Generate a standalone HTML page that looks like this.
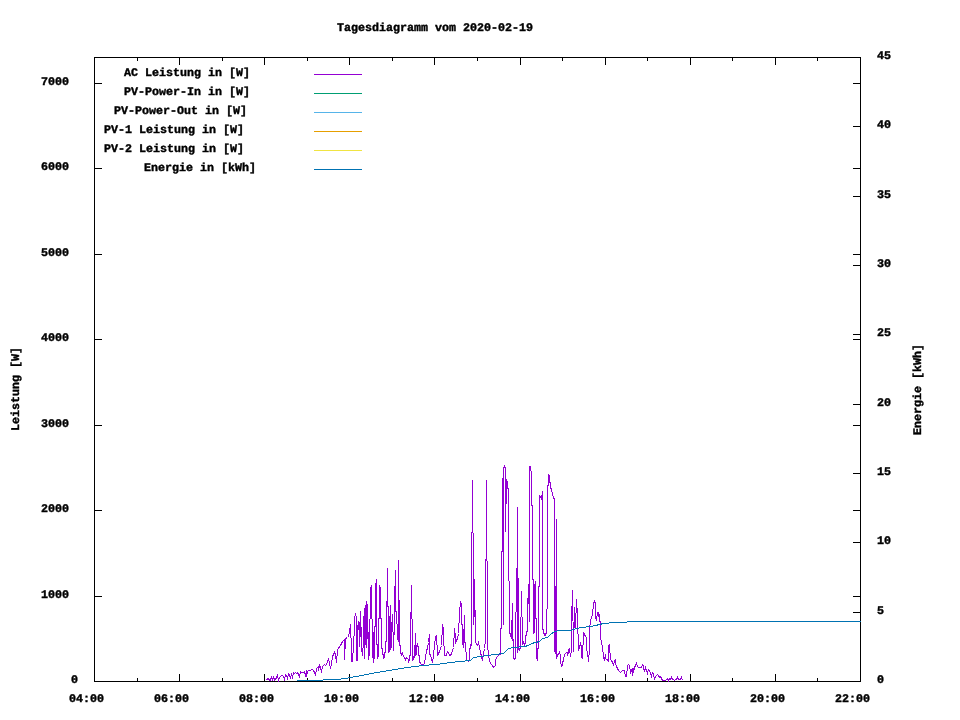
<!DOCTYPE html>
<html lang="de"><head><meta charset="utf-8"><title>Tagesdiagramm vom 2020-02-19</title>
<style>html,body{margin:0;padding:0;background:#fff;overflow:hidden}svg{display:block}text{text-rendering:geometricPrecision;font-family:"Liberation Mono","DejaVu Sans Mono",monospace;font-weight:bold;font-size:11.6px;fill:#000;stroke:#000;stroke-width:0.4px}</style>
</head><body>
<svg width="960" height="720" viewBox="0 0 960 720">
<rect width="960" height="720" fill="#fff"/>
<g stroke="#000" stroke-width="1" fill="none" shape-rendering="crispEdges">
<path d="M94.5 674V682"/>
<path d="M94.5 57V65"/>
<path d="M137.5 678V682"/>
<path d="M137.5 57V61"/>
<path d="M179.5 674V682"/>
<path d="M179.5 57V65"/>
<path d="M222.5 678V682"/>
<path d="M222.5 57V61"/>
<path d="M264.5 674V682"/>
<path d="M264.5 57V65"/>
<path d="M307.5 678V682"/>
<path d="M307.5 57V61"/>
<path d="M349.5 674V682"/>
<path d="M349.5 57V65"/>
<path d="M392.5 678V682"/>
<path d="M392.5 57V61"/>
<path d="M434.5 674V682"/>
<path d="M434.5 57V65"/>
<path d="M477.5 678V682"/>
<path d="M477.5 57V61"/>
<path d="M520.5 674V682"/>
<path d="M520.5 57V65"/>
<path d="M562.5 678V682"/>
<path d="M562.5 57V61"/>
<path d="M605.5 674V682"/>
<path d="M605.5 57V65"/>
<path d="M647.5 678V682"/>
<path d="M647.5 57V61"/>
<path d="M690.5 674V682"/>
<path d="M690.5 57V65"/>
<path d="M732.5 678V682"/>
<path d="M732.5 57V61"/>
<path d="M775.5 674V682"/>
<path d="M775.5 57V65"/>
<path d="M817.5 678V682"/>
<path d="M817.5 57V61"/>
<path d="M860.5 674V682"/>
<path d="M860.5 57V65"/>
<path d="M94 681.5H102"/>
<path d="M853 681.5H861"/>
<path d="M94 596.5H102"/>
<path d="M853 596.5H861"/>
<path d="M94 510.5H102"/>
<path d="M853 510.5H861"/>
<path d="M94 425.5H102"/>
<path d="M853 425.5H861"/>
<path d="M94 339.5H102"/>
<path d="M853 339.5H861"/>
<path d="M94 254.5H102"/>
<path d="M853 254.5H861"/>
<path d="M94 168.5H102"/>
<path d="M853 168.5H861"/>
<path d="M94 83.5H102"/>
<path d="M853 83.5H861"/>
<path d="M853 681.5H861"/>
<path d="M853 612.5H861"/>
<path d="M853 542.5H861"/>
<path d="M853 473.5H861"/>
<path d="M853 404.5H861"/>
<path d="M853 334.5H861"/>
<path d="M853 265.5H861"/>
<path d="M853 196.5H861"/>
<path d="M853 126.5H861"/>
<path d="M853 57.5H861"/>
<rect x="94.5" y="57.5" width="766" height="624"/>
</g>
<text transform="translate(71,683) scale(1.0057,1)">0</text>
<text transform="translate(41,598) scale(1.0057,1)">1000</text>
<text transform="translate(41,512) scale(1.0057,1)">2000</text>
<text transform="translate(41,427) scale(1.0057,1)">3000</text>
<text transform="translate(41,341) scale(1.0057,1)">4000</text>
<text transform="translate(41,256) scale(1.0057,1)">5000</text>
<text transform="translate(41,170) scale(1.0057,1)">6000</text>
<text transform="translate(41,85) scale(1.0057,1)">7000</text>
<text transform="translate(877,683) scale(1.0057,1)">0</text>
<text transform="translate(877,614) scale(1.0057,1)">5</text>
<text transform="translate(877,544) scale(1.0057,1)">10</text>
<text transform="translate(877,475) scale(1.0057,1)">15</text>
<text transform="translate(877,406) scale(1.0057,1)">20</text>
<text transform="translate(877,336) scale(1.0057,1)">25</text>
<text transform="translate(877,267) scale(1.0057,1)">30</text>
<text transform="translate(877,198) scale(1.0057,1)">35</text>
<text transform="translate(877,128) scale(1.0057,1)">40</text>
<text transform="translate(877,59) scale(1.0057,1)">45</text>
<text transform="translate(69,702) scale(1.0057,1)">04:00</text>
<text transform="translate(154,702) scale(1.0057,1)">06:00</text>
<text transform="translate(239,702) scale(1.0057,1)">08:00</text>
<text transform="translate(324,702) scale(1.0057,1)">10:00</text>
<text transform="translate(409,702) scale(1.0057,1)">12:00</text>
<text transform="translate(495,702) scale(1.0057,1)">14:00</text>
<text transform="translate(580,702) scale(1.0057,1)">16:00</text>
<text transform="translate(665,702) scale(1.0057,1)">18:00</text>
<text transform="translate(750,702) scale(1.0057,1)">20:00</text>
<text transform="translate(835,702) scale(1.0057,1)">22:00</text>
<text transform="translate(337,31) scale(1.0057,1)">Tagesdiagramm vom 2020-02-19</text>
<text transform="translate(19,431) rotate(-90) scale(1.0057,1)">Leistung [W]</text>
<text transform="translate(921,435) rotate(-90) scale(1.0057,1)">Energie [kWh]</text>
<text transform="translate(124,76) scale(1.0057,1)">AC Leistung in [W]</text>
<path d="M314 74.5H362" stroke="#9400d3" stroke-width="1" shape-rendering="crispEdges"/>
<text transform="translate(124,95) scale(1.0057,1)">PV-Power-In in [W]</text>
<path d="M314 93.5H362" stroke="#009e73" stroke-width="1" shape-rendering="crispEdges"/>
<text transform="translate(114,114) scale(1.0057,1)">PV-Power-Out in [W]</text>
<path d="M314 112.5H362" stroke="#56b4e9" stroke-width="1" shape-rendering="crispEdges"/>
<text transform="translate(104,133) scale(1.0057,1)">PV-1 Leistung in [W]</text>
<path d="M314 131.5H362" stroke="#e69f00" stroke-width="1" shape-rendering="crispEdges"/>
<text transform="translate(104,152) scale(1.0057,1)">PV-2 Leistung in [W]</text>
<path d="M314 150.5H362" stroke="#f0e442" stroke-width="1" shape-rendering="crispEdges"/>
<text transform="translate(144,171) scale(1.0057,1)">Energie in [kWh]</text>
<path d="M314 169.5H362" stroke="#0072b2" stroke-width="1" shape-rendering="crispEdges"/>
<path d="M266.5,680.5 267.5,678.5 268.5,678.5 269.5,680.5 270.5,680.5 271.5,676.5 272.5,680.5 273.5,676.5 274.5,680.5 275.5,679.5 276.5,677.5 277.5,675.5 278.5,680.5 279.5,677.5 280.5,676.5 281.5,675.5 282.5,675.5 283.5,676.5 284.5,679.5 285.5,674.5 286.5,675.5 287.5,678.5 288.5,673.5 289.5,674.5 290.5,678.5 291.5,673.5 292.5,678.5 293.5,672.5 294.5,673.5 295.5,672.5 296.5,673.5 297.5,672.5 298.5,674.5 299.5,677.5 300.5,671.5 301.5,672.5 302.5,672.5 303.5,672.5 304.5,671.5 305.5,676.5 306.5,670.5 306.5,676.5 307.5,671.5 308.5,670.5 309.5,670.5 310.5,670.5 311.5,669.5 312.5,669.5 313.5,670.5 314.5,672.5 315.5,675.5 316.5,668.5 317.5,667.5 318.5,666.5 318.5,670.5 319.5,665.5 320.5,667.5 321.5,672.5 322.5,666.5 323.5,665.5 324.5,664.5 325.5,665.5 326.5,664.5 327.5,661.5 328.5,659.5 329.5,662.5 330.5,668.5 331.5,663.5 332.5,656.5 333.5,654.5 334.5,652.5 335.5,654.5 336.5,662.5 337.5,649.5 338.5,648.5 339.5,646.5 340.5,645.5 342.5,641.5 344.5,639.5 344.5,659.5 345.5,638.5 347.5,637.5 348.5,636.5 349.5,631.5 350.5,624.5 350.5,637.5 351.5,638.5 351.5,661.5 352.5,661.5 352.5,653.5 353.5,652.5 353.5,636.5 354.5,635.5 354.5,617.5 355.5,614.5 356.5,617.5 356.5,660.5 357.5,660.5 357.5,629.5 358.5,621.5 358.5,629.5 359.5,622.5 359.5,646.5 360.5,628.5 360.5,610.5 360.5,628.5 361.5,627.5 361.5,651.5 362.5,651.5 362.5,655.5 363.5,640.5 363.5,623.5 364.5,608.5 364.5,658.5 365.5,632.5 365.5,608.5 366.5,601.5 366.5,647.5 367.5,631.5 367.5,603.5 367.5,631.5 368.5,632.5 368.5,659.5 369.5,652.5 369.5,619.5 370.5,618.5 370.5,589.5 371.5,585.5 371.5,618.5 372.5,619.5 372.5,652.5 373.5,662.5 373.5,632.5 374.5,658.5 374.5,626.5 375.5,626.5 375.5,587.5 376.5,579.5 376.5,644.5 377.5,644.5 377.5,658.5 378.5,655.5 378.5,618.5 379.5,618.5 379.5,585.5 380.5,589.5 380.5,618.5 381.5,618.5 381.5,648.5 382.5,648.5 382.5,654.5 383.5,654.5 383.5,658.5 384.5,656.5 384.5,652.5 385.5,652.5 385.5,641.5 386.5,641.5 386.5,601.5 387.5,600.5 387.5,567.5 387.5,606.5 388.5,606.5 388.5,652.5 389.5,650.5 389.5,626.5 390.5,605.5 390.5,649.5 391.5,646.5 391.5,629.5 392.5,614.5 392.5,631.5 393.5,632.5 393.5,650.5 394.5,620.5 394.5,601.5 395.5,570.5 395.5,611.5 396.5,611.5 396.5,623.5 397.5,624.5 397.5,638.5 398.5,641.5 398.5,559.5 398.5,599.5 399.5,600.5 399.5,645.5 400.5,645.5 400.5,653.5 401.5,653.5 401.5,655.5 402.5,653.5 403.5,656.5 404.5,657.5 405.5,659.5 406.5,657.5 407.5,658.5 408.5,659.5 408.5,662.5 409.5,659.5 409.5,655.5 410.5,655.5 410.5,612.5 411.5,611.5 411.5,584.5 411.5,618.5 412.5,619.5 412.5,660.5 413.5,658.5 413.5,656.5 414.5,657.5 414.5,645.5 415.5,645.5 415.5,632.5 415.5,655.5 416.5,654.5 416.5,646.5 417.5,643.5 417.5,646.5 418.5,646.5 418.5,655.5 419.5,655.5 419.5,661.5 420.5,663.5 421.5,664.5 423.5,664.5 424.5,663.5 425.5,656.5 426.5,651.5 427.5,647.5 428.5,642.5 429.5,634.5 429.5,653.5 430.5,655.5 431.5,658.5 432.5,662.5 433.5,656.5 434.5,644.5 435.5,637.5 436.5,635.5 436.5,644.5 437.5,645.5 437.5,655.5 438.5,653.5 439.5,651.5 440.5,648.5 441.5,645.5 442.5,624.5 443.5,630.5 443.5,645.5 444.5,646.5 444.5,655.5 445.5,655.5 446.5,655.5 447.5,651.5 448.5,652.5 449.5,655.5 450.5,655.5 451.5,653.5 452.5,650.5 453.5,647.5 454.5,628.5 455.5,636.5 455.5,643.5 456.5,640.5 457.5,638.5 458.5,633.5 459.5,612.5 460.5,601.5 461.5,605.5 461.5,624.5 462.5,624.5 462.5,644.5 463.5,629.5 463.5,647.5 464.5,615.5 464.5,642.5 465.5,642.5 465.5,651.5 466.5,652.5 466.5,659.5 467.5,660.5 468.5,661.5 469.5,659.5 469.5,648.5 470.5,648.5 470.5,644.5 471.5,645.5 471.5,532.5 472.5,531.5 472.5,479.5 472.5,532.5 473.5,533.5 473.5,624.5 474.5,609.5 474.5,578.5 474.5,609.5 475.5,610.5 475.5,642.5 477.5,645.5 478.5,642.5 480.5,652.5 482.5,660.5 484.5,648.5 485.5,640.5 485.5,559.5 486.5,558.5 486.5,479.5 486.5,560.5 487.5,561.5 487.5,643.5 488.5,656.5 490.5,663.5 492.5,665.5 493.5,667.5 495.5,665.5 495.5,659.5 497.5,656.5 499.5,654.5 500.5,654.5 500.5,628.5 501.5,628.5 501.5,551.5 502.5,551.5 502.5,478.5 503.5,478.5 503.5,624.5 503.5,469.5 504.5,465.5 505.5,469.5 505.5,531.5 506.5,479.5 507.5,483.5 507.5,488.5 508.5,488.5 508.5,580.5 509.5,581.5 509.5,630.5 510.5,636.5 511.5,630.5 511.5,638.5 512.5,603.5 512.5,640.5 513.5,639.5 513.5,657.5 514.5,659.5 515.5,658.5 515.5,612.5 516.5,611.5 516.5,568.5 517.5,567.5 517.5,506.5 517.5,652.5 518.5,647.5 518.5,577.5 518.5,647.5 519.5,650.5 519.5,648.5 520.5,648.5 520.5,617.5 521.5,616.5 521.5,590.5 521.5,616.5 522.5,617.5 522.5,644.5 523.5,642.5 524.5,644.5 525.5,642.5 525.5,635.5 526.5,635.5 526.5,631.5 527.5,631.5 527.5,598.5 528.5,603.5 528.5,584.5 529.5,621.5 529.5,466.5 530.5,466.5 530.5,470.5 531.5,471.5 531.5,505.5 532.5,505.5 532.5,579.5 533.5,579.5 533.5,633.5 534.5,631.5 534.5,586.5 535.5,581.5 535.5,618.5 536.5,618.5 536.5,657.5 537.5,660.5 537.5,648.5 538.5,648.5 538.5,586.5 539.5,586.5 539.5,495.5 540.5,496.5 541.5,498.5 542.5,491.5 542.5,627.5 543.5,631.5 544.5,635.5 545.5,635.5 545.5,633.5 546.5,633.5 546.5,609.5 547.5,608.5 547.5,485.5 548.5,485.5 548.5,474.5 549.5,475.5 549.5,482.5 550.5,482.5 550.5,488.5 551.5,488.5 551.5,491.5 552.5,492.5 552.5,495.5 553.5,496.5 553.5,498.5 554.5,498.5 554.5,650.5 555.5,653.5 555.5,586.5 556.5,586.5 556.5,518.5 556.5,658.5 557.5,654.5 558.5,654.5 559.5,652.5 560.5,655.5 560.5,661.5 561.5,666.5 562.5,665.5 562.5,661.5 563.5,661.5 563.5,657.5 564.5,656.5 564.5,654.5 565.5,653.5 566.5,652.5 567.5,652.5 567.5,655.5 568.5,652.5 568.5,649.5 569.5,648.5 570.5,656.5 571.5,649.5 571.5,622.5 572.5,590.5 573.5,651.5 574.5,607.5 575.5,627.5 576.5,599.5 577.5,615.5 577.5,633.5 578.5,634.5 578.5,650.5 579.5,647.5 580.5,642.5 581.5,648.5 581.5,657.5 582.5,658.5 583.5,632.5 584.5,634.5 585.5,636.5 586.5,637.5 586.5,650.5 587.5,651.5 588.5,661.5 589.5,649.5 589.5,628.5 590.5,621.5 591.5,616.5 592.5,615.5 593.5,603.5 594.5,601.5 595.5,603.5 595.5,616.5 596.5,620.5 597.5,612.5 598.5,612.5 598.5,616.5 599.5,614.5 599.5,621.5 600.5,621.5 600.5,636.5 601.5,642.5 602.5,646.5 603.5,657.5 604.5,659.5 605.5,654.5 605.5,658.5 606.5,659.5 607.5,659.5 608.5,661.5 608.5,646.5 609.5,644.5 609.5,652.5 610.5,653.5 610.5,659.5 611.5,660.5 612.5,662.5 613.5,664.5 614.5,661.5 615.5,659.5 615.5,663.5 616.5,666.5 617.5,668.5 618.5,670.5 619.5,671.5 620.5,672.5 621.5,671.5 622.5,670.5 623.5,670.5 624.5,670.5 625.5,676.5 626.5,671.5 626.5,676.5 627.5,665.5 628.5,664.5 629.5,665.5 630.5,672.5 631.5,670.5 632.5,668.5 632.5,675.5 633.5,668.5 633.5,672.5 634.5,667.5 635.5,665.5 636.5,663.5 637.5,666.5 638.5,667.5 639.5,667.5 640.5,667.5 641.5,667.5 642.5,664.5 643.5,665.5 643.5,667.5 644.5,671.5 645.5,667.5 646.5,670.5 647.5,673.5 648.5,669.5 649.5,670.5 650.5,673.5 651.5,676.5 652.5,672.5 653.5,673.5 654.5,679.5 655.5,676.5 656.5,675.5 657.5,674.5 658.5,675.5 659.5,677.5 660.5,676.5 661.5,678.5 662.5,680.5 663.5,680.5 665.5,680.5 666.5,679.5 667.5,678.5 668.5,680.5 669.5,678.5 670.5,679.5 671.5,677.5 672.5,679.5 673.5,679.5 674.5,680.5 675.5,679.5 676.5,679.5 677.5,677.5 678.5,679.5 680.5,679.5 681.5,677.5 682.5,680.5" fill="none" stroke="#9400d3" stroke-width="1" stroke-linejoin="miter" shape-rendering="crispEdges"/>
<path d="M296.5,680.5 322.5,680.5 323.5,679.5 337.5,679.5 345.5,678.5 350.5,677.5 361.5,675.5 371.5,673.5 382.5,671.5 395.5,669.5 406.5,667.5 415.5,666.5 422.5,665.5 436.5,664.5 450.5,662.5 460.5,661.5 470.5,660.5 473.5,657.5 487.5,655.5 495.5,654.5 503.5,653.5 508.5,648.5 513.5,647.5 524.5,646.5 528.5,645.5 531.5,643.5 539.5,641.5 542.5,638.5 547.5,637.5 550.5,634.5 554.5,631.5 560.5,630.5 570.5,630.5 576.5,628.5 582.5,627.5 590.5,626.5 595.5,625.5 599.5,624.5 603.5,623.5 615.5,622.5 638.5,621.5 860.5,621.5" fill="none" stroke="#0072b2" stroke-width="1" stroke-linejoin="miter" shape-rendering="crispEdges"/>
</svg></body></html>
